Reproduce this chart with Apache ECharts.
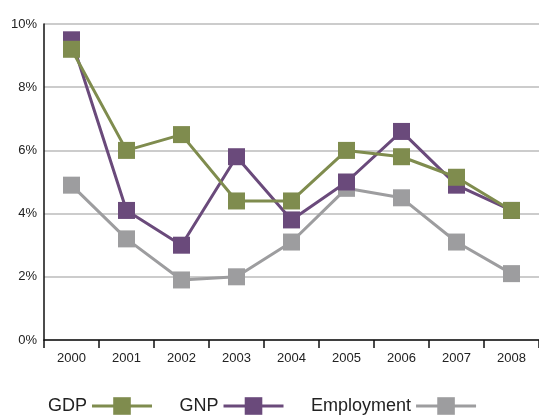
<!DOCTYPE html>
<html>
<head>
<meta charset="utf-8">
<script src="https://cdn.jsdelivr.net/npm/echarts@6/dist/echarts.min.js"></script>
<style>
  html, body { margin: 0; padding: 0; background: #fff; }
  #chart { width: 539px; height: 415px; }
</style>
</head>
<body>
<div id="chart"></div>
<script>
const years = ['2000', '2001', '2002', '2003', '2004', '2005', '2006', '2007', '2008']
const gdp = [9.2, 6.0, 6.5, 4.4, 4.4, 6.0, 5.8, 5.15, 4.1]
const gnp = [9.5, 4.1, 3.0, 5.8, 3.8, 5.0, 6.6, 4.9, 4.1]
const employment = [4.9, 3.2, 1.9, 2.0, 3.1, 4.8, 4.5, 3.1, 2.1]

const font = 'Liberation Sans'

// z order: employment at the back, GDP on top
function makeSeries (name, data, color, z) {
  return {
    name,
    type: 'line',
    data,
    z,
    symbol: 'rect',
    symbolSize: 17,
    lineStyle: { color, width: 3 },
    itemStyle: { color },
    emphasis: { disabled: true }
  }
}

const chart = echarts.init(document.getElementById('chart'))
chart.setOption({
  animation: false,
  grid: { left: 44, right: 0, top: 24, bottom: 75 },
  legend: {
    bottom: 0,
    left: 48,
    width: 491,
    padding: 0,
    align: 'right',
    itemWidth: 60,
    itemHeight: 22,
    itemGap: 26,
    lineStyle: { width: 3 },
    textStyle: { fontFamily: font, fontSize: 18, color: '#222' },
    data: ['GDP', 'GNP', 'Employment']
  },
  xAxis: {
    type: 'category',
    data: years,
    boundaryGap: true,
    axisLine: { lineStyle: { color: '#111', width: 1.5 } },
    axisTick: { show: true, length: 8, lineStyle: { color: '#111', width: 1.5 } },
    axisLabel: { fontFamily: font, fontSize: 13, color: '#222', margin: 12 }
  },
  yAxis: {
    type: 'value',
    min: 0,
    max: 10,
    interval: 2,
    axisLine: { show: true, lineStyle: { color: '#111', width: 1.5 } },
    axisTick: { show: false },
    axisLabel: { fontFamily: font, fontSize: 13, color: '#222', margin: 7, formatter: '{value}%' },
    splitLine: { lineStyle: { color: '#bbb', width: 1.5 } }
  },
  series: [
    makeSeries('GDP', gdp, '#7f8c4e', 4),
    makeSeries('GNP', gnp, '#6a4a7b', 3),
    makeSeries('Employment', employment, '#9d9d9f', 2)
  ]
})
</script>
</body>
</html>
